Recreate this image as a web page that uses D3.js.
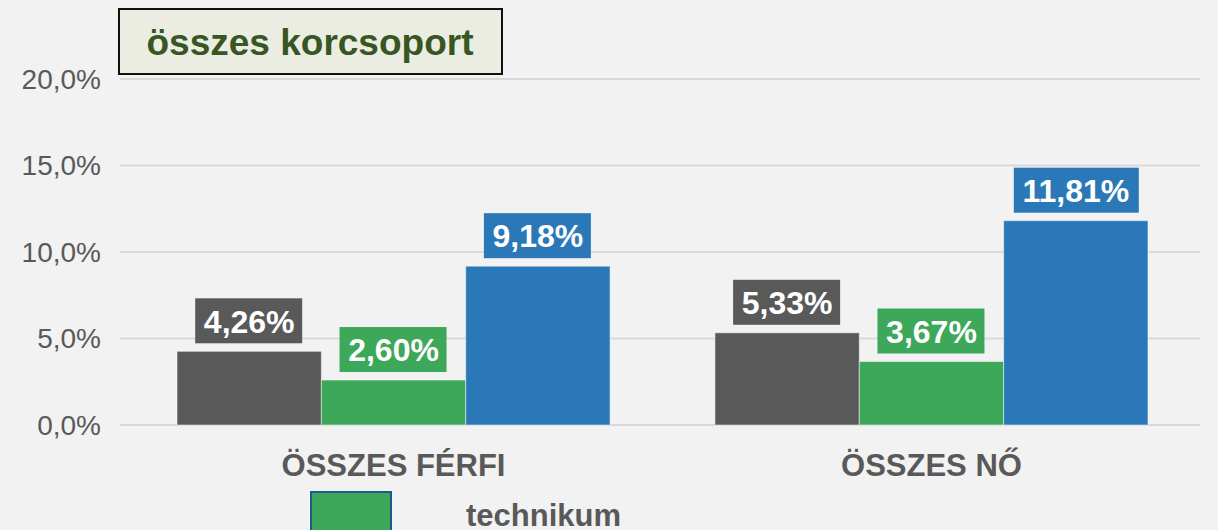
<!DOCTYPE html>
<html>
<head>
<meta charset="utf-8">
<script src="https://cdn.jsdelivr.net/npm/d3@7"></script>
<style>
  html, body { margin: 0; padding: 0; background: #f2f2f2; }
  svg { display: block; font-family: "Liberation Sans", Arial, sans-serif; }
</style>
</head>
<body>
<div id="chart"></div>
<script>
// data
const categories = ["ÖSSZES FÉRFI", "ÖSSZES NŐ"];
const seriesNames = ["s1", "technikum", "s3"];
const seriesColors = ["#595959", "#3da85a", "#2a78b8"];
const values = [
  [4.26, 2.60, 9.18],
  [5.33, 3.67, 11.81]
];
const yTicks = [0, 5, 10, 15, 20];
const titleText = "összes korcsoport";
const legendLabel = "technikum";

const width = 1218, height = 530;
const margin = { top: 79, right: 18, bottom: 105, left: 120 };

const svg = d3.select("#chart").append("svg")
  .attr("width", width)
  .attr("height", height);

svg.append("rect").attr("width", width).attr("height", height).attr("fill", "#f2f2f2");

const y = d3.scaleLinear().domain([0, 20]).range([height - margin.bottom, margin.top]);
const x0 = d3.scaleBand().domain(categories).range([margin.left, 1205]).paddingInner(0.195).paddingOuter(0.106);
const x1 = d3.scaleBand().domain(seriesNames).range([0, x0.bandwidth()]);

const fmt = v => d3.format(".1f")(v).replace(".", ",") + "%";

// gridlines
svg.append("g").selectAll("line")
  .data(yTicks)
  .join("line")
  .attr("x1", margin.left).attr("x2", width - margin.right)
  .attr("y1", d => y(d)).attr("y2", d => y(d))
  .attr("stroke", "#d9d9d9").attr("stroke-width", 2);

// y labels
svg.append("g").selectAll("text")
  .data(yTicks)
  .join("text")
  .attr("x", 101).attr("y", d => y(d))
  .attr("dy", "0.35em")
  .attr("text-anchor", "end")
  .attr("fill", "#595959")
  .attr("font-size", "28px")
  .text(fmt);

// bars
const groups = svg.append("g").selectAll("g")
  .data(categories)
  .join("g")
  .attr("transform", d => `translate(${x0(d)},0)`);

groups.selectAll("rect")
  .data((d, i) => values[i].map((v, j) => ({ v, s: seriesNames[j], c: seriesColors[j] })))
  .join("rect")
  .attr("x", d => x1(d.s))
  .attr("y", d => y(d.v))
  .attr("width", x1.bandwidth())
  .attr("height", d => y(0) - y(d.v))
  .attr("fill", d => d.c)
  .attr("stroke", "rgba(255,255,255,0.5)")
  .attr("stroke-width", 1);

// data labels
const lbl = groups.selectAll("g.lbl")
  .data((d, i) => values[i].map((v, j) => ({ v, s: seriesNames[j], c: seriesColors[j] })))
  .join("g")
  .attr("class", "lbl")
  .attr("transform", d => `translate(${x1(d.s) + x1.bandwidth() / 2},${y(d.v) - 8})`);

lbl.append("rect")
  .attr("x", d => d.v >= 10 ? -62 : -54)
  .attr("y", -45)
  .attr("width", d => d.v >= 10 ? 125 : 107)
  .attr("height", 45)
  .attr("fill", d => d.c);

lbl.append("text")
  .attr("y", -22)
  .attr("dy", "0.35em")
  .attr("text-anchor", "middle")
  .attr("fill", "#ffffff")
  .attr("font-size", "32px")
  .attr("font-weight", "bold")
  .text(d => d3.format(".2f")(d.v).replace(".", ",") + "%");

// x labels
svg.append("g").selectAll("text")
  .data(categories)
  .join("text")
  .attr("x", d => x0(d) + x0.bandwidth() / 2)
  .attr("y", 465)
  .attr("dy", "0.35em")
  .attr("text-anchor", "middle")
  .attr("fill", "#595959")
  .attr("font-size", "31px")
  .attr("font-weight", "bold")
  .text(d => d);

// legend
svg.append("rect")
  .attr("x", 311).attr("y", 492)
  .attr("width", 80).attr("height", 40)
  .attr("fill", seriesColors[1])
  .attr("stroke", "#1f5a8c").attr("stroke-width", 2);

svg.append("text")
  .attr("x", 466).attr("y", 526)
  .attr("fill", "#595959")
  .attr("font-size", "31px")
  .attr("font-weight", "bold")
  .text(legendLabel);

// title box
svg.append("rect")
  .attr("x", 119).attr("y", 9)
  .attr("width", 383).attr("height", 65)
  .attr("fill", "#ecede2")
  .attr("stroke", "#111").attr("stroke-width", 2);

svg.append("text")
  .attr("x", 310).attr("y", 42)
  .attr("dy", "0.35em")
  .attr("text-anchor", "middle")
  .attr("fill", "#375623")
  .attr("font-size", "37px")
  .attr("font-weight", "bold")
  .text(titleText);
</script>
</body>
</html>
